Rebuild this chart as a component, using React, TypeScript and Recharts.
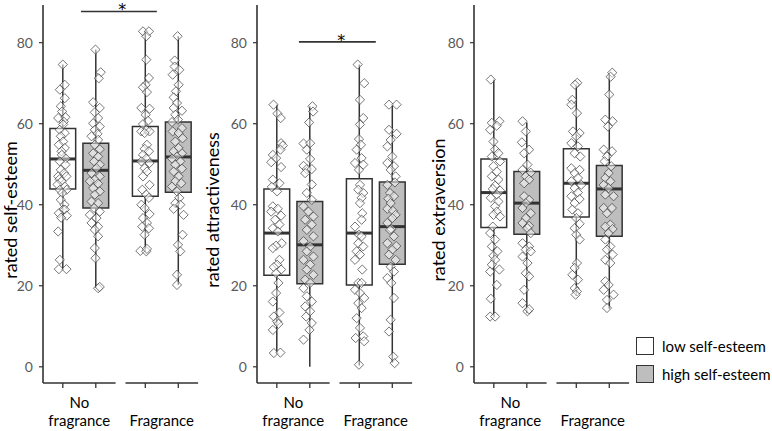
import React from "react";
import {
  ComposedChart,
  Scatter,
  XAxis,
  YAxis,
  ReferenceArea,
  ReferenceLine,
  ReferenceDot,
} from "recharts";

// box order in every panel: no fragrance low, no fragrance high, fragrance low, fragrance high
const boxPositions = [1, 2, 3.5, 4.5];
const facets = [
  { label: ["No", "fragrance"], pos: 1.5, from: 0.4, to: 2.6 },
  { label: ["Fragrance"], pos: 4, from: 2.9, to: 5.1 },
];
const groups = [
  { name: "low self-esteem", fill: "#ffffff" },
  { name: "high self-esteem", fill: "#bebebe" },
];
const yTicks = [0, 20, 40, 60, 80];

// [lower whisker, q1, median, q3, upper whisker]
const selfEsteemStats = [
  [24, 43.9, 51.3, 58.8, 74.6],
  [19.5, 39.2, 48.5, 55.2, 78.3],
  [28.5, 42.1, 50.8, 59.3, 82.8],
  [20.2, 43.1, 51.8, 60.4, 81.6],
];
const attractivenessStats = [
  [3.4, 22.6, 33, 43.9, 64.7],
  [0, 20.5, 30.1, 40.8, 64.3],
  [0.3, 20.2, 33, 46.4, 74.6],
  [1, 25.3, 34.6, 45.6, 64.5],
];
const extraversionStats = [
  [12.4, 34.4, 43, 51.3, 70.9],
  [13.2, 32.7, 40.4, 48.2, 60.3],
  [17.5, 37, 45.3, 53.8, 69.8],
  [14.3, 32.2, 43.9, 49.7, 72.2],
];

// jittered points: [horizontal jitter, rating]
const selfEsteemPoints = [
  [
    [0, 74.6], [0.06, 69.6], [-0.09, 68.4], [0.06, 66.3], [-0.06, 64.3], [-0.02, 63], [-0.14, 61.4],
    [0.08, 61.6], [0.03, 60.5], [0.01, 59.8], [-0.09, 58.5], [0.06, 57.7], [-0.06, 56.9], [0.01, 55.6],
    [-0.12, 54.8], [0.06, 54], [-0.04, 53.2], [-0.03, 52.3], [0.09, 51.4], [-0.09, 50.7], [0.08, 49.9],
    [-0.06, 48.6], [0.04, 47.8], [-0.14, 47], [0.11, 47], [-0.1, 46.3], [-0.04, 45.8], [-0.16, 45],
    [0.06, 44.5], [-0.09, 43.7], [0.12, 43.7], [-0.02, 42.9], [-0.06, 41.2], [0.05, 40], [0.01, 38.8],
    [0.06, 38.8], [-0.12, 37.9], [0.12, 37.3], [-0.05, 36.8], [-0.14, 33.4], [-0.09, 26.4],
    [-0.12, 24.1], [0.11, 24.1],
  ],
  [
    [-0.01, 78.3], [0.15, 72.7], [0.09, 71.2], [-0.08, 65.3], [0.12, 63.9], [-0.03, 62.8], [0.07, 61.4],
    [-0.08, 60.1], [0.12, 59.3], [-0.03, 58.5], [0.05, 57.5], [-0.13, 56.9], [0.07, 56], [-0.03, 54.8],
    [0.12, 53.7], [-0.08, 52.7], [0.07, 51.9], [-0.05, 50.7], [0.12, 49.9], [0.02, 49], [-0.13, 47.8],
    [0.12, 47], [-0.03, 46.2], [-0.18, 45.8], [0.07, 45.2], [-0.08, 44.1], [0.12, 43.3], [-0.03, 42.5],
    [-0.13, 40.8], [0.07, 40.4], [-0.05, 39.2], [0.12, 38.3], [-0.18, 37.5], [0.02, 36.7],
    [-0.13, 35.5], [0.07, 34.6], [-0.03, 33.8], [0.07, 32.2], [-0.03, 29.3], [-0.01, 26.8],
    [0.07, 19.4], [0.12, 19.7],
  ],
  [
    [-0.07, 82.8], [0.11, 82.8], [0.03, 81.6], [0.03, 75.8], [0.11, 71.3], [0.01, 69.6], [-0.07, 69],
    [0.05, 67.8], [-0.12, 63.9], [0.13, 63.7], [0.01, 62.2], [0.08, 60.7], [-0.07, 59.9], [0.03, 58.5],
    [-0.12, 58.1], [0.13, 58.1], [-0.02, 57.7], [0.05, 54.8], [-0.02, 53.8], [0.11, 53.2],
    [-0.07, 52.3], [0.03, 51.4], [-0.12, 50.7], [0.13, 50.3], [-0.02, 49], [0.05, 48.2], [-0.07, 47],
    [0.13, 44.9], [-0.09, 43.7], [0.03, 42.5], [0.11, 41.7], [-0.12, 40], [-0.02, 39.2], [0.13, 37.7],
    [-0.07, 36.7], [0.05, 35.5], [-0.09, 34.6], [0.11, 34.2], [-0.02, 32.6], [-0.15, 28.6],
    [0.03, 28.5], [0.05, 29.1],
  ],
  [
    [-0.02, 81.6], [-0.11, 75.6], [-0.11, 74.1], [0.03, 73.3], [-0.17, 72.1], [0.01, 69.6], [-0.07, 68],
    [-0.14, 66.5], [-0.04, 65.1], [-0.14, 63.9], [0.11, 63.2], [-0.09, 62.2], [-0.01, 61], [-0.19, 60.4],
    [0.11, 58.9], [-0.17, 58.1], [0.01, 57.7], [0.13, 56.4], [-0.09, 55.6], [0.01, 54], [-0.14, 53.2],
    [0.11, 52.7], [-0.04, 51.9], [-0.19, 51.4], [0.06, 50.7], [-0.09, 49.9], [0.11, 48.9],
    [-0.14, 48.2], [0.01, 47], [-0.09, 45.8], [0.09, 45.3], [-0.19, 44.5], [-0.04, 43.3], [0.03, 41.7],
    [-0.09, 40.4], [0.06, 40], [-0.14, 39], [0.16, 37.5], [0.13, 32.6], [-0.01, 30.1], [0.06, 28.5],
    [-0.04, 22.7], [-0.04, 20.2],
  ],
];
const attractivenessPoints = [
  [
    [-0.1, 64.7], [0.02, 62.5], [0.12, 61.4], [0.13, 55.2], [0.18, 54.6], [0.11, 53.6], [-0.12, 52.3],
    [-0.02, 51.5], [-0.17, 50.5], [0.13, 49.3], [-0.12, 46.2], [0.08, 45.3], [-0.15, 44.4], [0.01, 43.3],
    [-0.12, 39.6], [0.03, 39], [-0.17, 38.3], [0.13, 37.3], [-0.05, 36.3], [0.08, 35.1], [-0.12, 34.2],
    [0.03, 33.4], [0.15, 30.5], [-0.02, 29.9], [-0.12, 29.3], [0.08, 26.4], [0.01, 25.2], [-0.09, 24.6],
    [0.13, 24], [-0.02, 23.1], [0.05, 20.7], [-0.02, 18.2], [-0.12, 16.1], [0.08, 13.4], [-0.09, 12.4],
    [0.01, 11.2], [0.05, 10.6], [-0.12, 9.1], [-0.09, 3.4], [0.11, 3.5],
  ],
  [
    [0.08, 64.3], [0.1, 63], [-0.02, 60.3], [-0.19, 55.1], [0.01, 55.2], [-0.09, 53.6], [0.01, 51.3],
    [-0.19, 49.6], [-0.09, 48.8], [0.06, 48.8], [-0.14, 47.8], [0.06, 45], [-0.09, 42.9], [0.06, 41.2],
    [-0.19, 39.6], [-0.04, 38.3], [0.11, 37.1], [-0.14, 36.3], [0.06, 35.1], [-0.09, 33.8], [0.11, 32.2],
    [-0.19, 31], [0.01, 29.7], [-0.09, 28.5], [0.11, 27.2], [-0.19, 26.4], [0.01, 25.2], [-0.09, 24],
    [0.11, 22.7], [-0.14, 21.5], [0.01, 20.7], [-0.19, 19.4], [-0.09, 17.4], [0.06, 16.1],
    [-0.14, 14.9], [0.01, 13.7], [-0.11, 12.4], [0.06, 10.8], [-0.01, 9.1], [-0.19, 6.7],
  ],
  [
    [-0.05, 74.6], [0.15, 70], [0.02, 65.9], [0.12, 61.4], [0.02, 59.8], [-0.01, 56.2], [0.05, 54.8],
    [-0.08, 53.6], [0.07, 51.5], [-0.13, 50.3], [0.12, 49.9], [-0.01, 48.6], [0.02, 44.9], [-0.03, 43.7],
    [0.12, 42.9], [0.07, 41.7], [0.02, 40.4], [0.09, 37.9], [0.07, 36.3], [-0.13, 34.6], [-0.01, 32.6],
    [0.07, 32.2], [-0.03, 30.5], [0.12, 29.7], [-0.08, 28.5], [0.02, 27.7], [-0.13, 26.4], [0.09, 24],
    [-0.03, 20.7], [0.07, 20.7], [-0.13, 19], [0.02, 18.2], [0.15, 17], [-0.03, 15.7], [0.07, 14.5],
    [-0.08, 12], [0.02, 9.6], [0.12, 7.5], [-0.11, 7.1], [0.15, 6.3], [-0.01, 0.5],
  ],
  [
    [-0.1, 64.7], [0.13, 64.7], [-0.1, 58.5], [0.13, 57.5], [-0.05, 56], [-0.15, 54.4], [0, 51.9],
    [-0.15, 50.3], [0.05, 49.5], [-0.05, 48.6], [0.1, 47], [0.08, 45.5], [-0.15, 44.9], [-0.07, 42.9],
    [0.05, 42.1], [-0.12, 41.5], [-0.05, 40.4], [-0.15, 39], [0.02, 38.5], [0.1, 37.5], [0, 36.7],
    [-0.15, 35.5], [-0.02, 34], [-0.07, 33.8], [0.05, 32.2], [-0.15, 30.5], [0.12, 29.8], [0, 28.9],
    [-0.1, 27.7], [0.1, 26.4], [-0.05, 24.7], [0.05, 23.5], [-0.15, 21.9], [-0.03, 20.7], [0.05, 17],
    [-0.05, 11.6], [-0.1, 8.7], [0.03, 2.5], [0.07, 0.9],
  ],
];
const extraversionPoints = [
  [
    [-0.09, 70.9], [-0.06, 60.2], [0.17, 60.6], [0.09, 59.5], [-0.11, 58.5], [-0.01, 55.6], [0.04, 53.6],
    [0.14, 52.7], [-0.06, 51.9], [0.19, 50.7], [-0.01, 49.5], [0.09, 48.2], [-0.06, 47], [0.14, 46.2],
    [0.04, 44.7], [-0.03, 43.9], [0.19, 43.5], [0.09, 42.5], [-0.09, 41.7], [0.14, 40.8], [0.04, 39.6],
    [0.09, 38.3], [-0.01, 37.5], [0.19, 37.1], [-0.03, 34.6], [-0.11, 33], [0.04, 31.4], [-0.06, 29.7],
    [0.11, 28.5], [-0.01, 27.4], [0.04, 26.4], [-0.06, 25.2], [0.17, 24], [-0.11, 23.5], [0.09, 20.2],
    [-0.09, 16.8], [-0.11, 12.4], [0.04, 12.4],
  ],
  [
    [-0.13, 60.6], [-0.03, 58.1], [-0.15, 55.4], [0.07, 53.6], [-0.08, 52.7], [0.02, 49.9], [-0.13, 48.6],
    [0.12, 47.9], [-0.03, 47], [0.07, 46.2], [-0.08, 45.3], [-0.08, 42.1], [0.07, 41.2], [-0.03, 40.4],
    [-0.13, 39.2], [0.12, 37.9], [-0.03, 36.7], [-0.13, 35.5], [0.07, 34.8], [0.02, 34.2], [0.12, 33],
    [-0.13, 30.5], [0.07, 29.7], [-0.03, 28.9], [0.12, 28.5], [-0.13, 27.2], [0.02, 25.6], [-0.03, 23.1],
    [0.07, 22.3], [-0.08, 19], [-0.13, 15.7], [0.02, 13.7], [0.07, 14.2],
  ],
  [
    [0.03, 70.1], [-0.04, 69.6], [-0.12, 65.9], [-0.15, 64.7], [0.02, 62.6], [-0.1, 58.1], [0.1, 57.7],
    [0, 56.9], [-0.15, 55.2], [0.05, 54.4], [-0.05, 52.7], [0.12, 51.9], [-0.15, 49], [0.1, 48.6],
    [-0.05, 47.8], [0.05, 46.6], [-0.15, 45.8], [0.15, 44.9], [-0.05, 44.1], [0.05, 43], [-0.15, 42.1],
    [0.1, 41.4], [-0.05, 40.4], [-0.12, 38.8], [0.05, 37.9], [0, 36.7], [0.1, 35.3], [-0.05, 34.2],
    [0, 32.6], [0.1, 31.4], [0.02, 25.6], [-0.05, 24.4], [-0.12, 22.7], [0.05, 21.5], [-0.05, 19.4],
    [0.02, 18.6], [-0.02, 17.8],
  ],
  [
    [0.09, 72.6], [0.04, 71.6], [0, 67.2], [-0.12, 61], [0.1, 60.6], [-0.04, 59.3], [-0.17, 53.6],
    [0.08, 53.2], [-0.07, 51.9], [-0.14, 50.7], [0.06, 49.5], [-0.02, 47.8], [-0.12, 46.6], [0.03, 45.8],
    [-0.17, 44.9], [-0.02, 44.1], [-0.12, 42.5], [0.13, 42.1], [-0.17, 39.2], [0.08, 39.2], [-0.07, 37.9],
    [0.03, 35.1], [-0.12, 34.6], [0.1, 34], [-0.02, 33], [-0.12, 31.4], [0.03, 29.7], [-0.07, 28.9],
    [0.1, 27.7], [-0.12, 26.4], [0.03, 25.6], [-0.12, 21.1], [-0.02, 20.2], [-0.17, 19], [0.13, 17.8],
    [-0.07, 16.5], [-0.07, 14.5],
  ],
];

const panels = [
  {
    title: "rated self-esteem",
    axisX: 43,
    titleX: 11,
    stats: selfEsteemStats,
    points: selfEsteemPoints,
    sig: { from: 1.55, to: 3.85, y: 87.7, star: 2.8 },
  },
  {
    title: "rated attractiveness",
    axisX: 257,
    titleX: 213,
    stats: attractivenessStats,
    points: attractivenessPoints,
    sig: { from: 1.67, to: 4.0, y: 80.2, star: 2.95 },
  },
  {
    title: "rated extraversion",
    axisX: 474,
    titleX: 439,
    stats: extraversionStats,
    points: extraversionPoints,
    sig: null,
  },
];

const X_DOMAIN = [0.4, 5.1];
const Y_DOMAIN = [-4, 89.3];
const UNIT = 33;
const PLOT_W = (X_DOMAIN[1] - X_DOMAIN[0]) * UNIT;
const AXIS_W = 60;
const HALF_BOX = 0.39;
const FONT = "Lato, 'Open Sans', sans-serif";
const INK = "#333333";

const XTick = (props: any) => {
  const { x, y, payload } = props;
  const facet = facets.find((f) => f.pos === payload.value);
  if (facet) {
    const n = facet.label.length;
    return (
      <g>
        {facet.label.map((t, i) => (
          <text key={t} x={x} y={y + 43 - (n - 1 - i) * 18} textAnchor="middle" fontSize={15} fill="#000">
            {t}
          </text>
        ))}
      </g>
    );
  }
  return <line x1={x} y1={y} x2={x} y2={y + 5} stroke={INK} strokeWidth={1.3} />;
};

const Diamond = (props: any) => {
  const { cx, cy } = props;
  const r = 4.6;
  return (
    <polygon
      points={`${cx},${cy - r} ${cx + r},${cy} ${cx},${cy + r} ${cx - r},${cy}`}
      fill="#ffffff"
      fillOpacity={0.5}
      stroke="#3a3a3a"
      strokeOpacity={0.7}
      strokeWidth={1}
    />
  );
};

const Panel = ({ panel }: { panel: (typeof panels)[number] }) => {
  const left = panel.axisX - AXIS_W;
  const labelX = panel.titleX - left;
  const width = AXIS_W + PLOT_W + 4;
  return (
    <div style={{ position: "absolute", left, top: 0 }}>
      <ComposedChart
        width={width}
        height={431}
        margin={{ top: 5, right: 4, bottom: 0, left: 0 }}
      >
        <XAxis
          type="number"
          dataKey="x"
          domain={X_DOMAIN}
          allowDataOverflow
          ticks={[1, 1.5, 2, 3.5, 4, 4.5]}
          interval={0}
          tickSize={0}
          tickMargin={0}
          axisLine={false}
          tickLine={false}
          height={48}
          tick={<XTick />}
        />
        <YAxis
          type="number"
          dataKey="y"
          domain={Y_DOMAIN}
          allowDataOverflow
          ticks={yTicks}
          interval={0}
          width={AXIS_W}
          tickSize={4}
          tickMargin={6}
          axisLine={{ stroke: INK, strokeWidth: 1.6 }}
          tickLine={{ stroke: INK, strokeWidth: 1.2 }}
          tick={{ fill: "#5a5a5a", fontSize: 14 }}
          label={() => (
            <text
              x={labelX}
              y={210}
              transform={`rotate(-90 ${labelX} 210)`}
              textAnchor="middle"
              dy="0.35em"
              fontSize={18}
              fill="#000"
            >
              {panel.title}
            </text>
          )}
        />
        {facets.map((f) => (
          <ReferenceLine
            key={`axis-${f.pos}`}
            segment={[
              { x: f.from, y: Y_DOMAIN[0] },
              { x: f.to, y: Y_DOMAIN[0] },
            ]}
            stroke={INK}
            strokeWidth={1.6}
            ifOverflow="visible"
          />
        ))}
        {panel.stats.map((s, i) => (
          <ReferenceLine
            key={`wlo-${i}`}
            segment={[
              { x: boxPositions[i], y: s[0] },
              { x: boxPositions[i], y: s[1] },
            ]}
            stroke={INK}
            strokeWidth={1.5}
            ifOverflow="visible"
          />
        ))}
        {panel.stats.map((s, i) => (
          <ReferenceLine
            key={`whi-${i}`}
            segment={[
              { x: boxPositions[i], y: s[3] },
              { x: boxPositions[i], y: s[4] },
            ]}
            stroke={INK}
            strokeWidth={1.5}
            ifOverflow="visible"
          />
        ))}
        {panel.stats.map((s, i) => (
          <ReferenceArea
            key={`box-${i}`}
            x1={boxPositions[i] - HALF_BOX}
            x2={boxPositions[i] + HALF_BOX}
            y1={s[1]}
            y2={s[3]}
            fill={groups[i % 2].fill}
            fillOpacity={1}
            stroke={INK}
            strokeWidth={1.5}
            ifOverflow="visible"
          />
        ))}
        {panel.stats.map((s, i) => (
          <ReferenceLine
            key={`med-${i}`}
            segment={[
              { x: boxPositions[i] - HALF_BOX, y: s[2] },
              { x: boxPositions[i] + HALF_BOX, y: s[2] },
            ]}
            stroke={INK}
            strokeWidth={3}
            ifOverflow="visible"
          />
        ))}
        {panel.points.map((pts, i) => (
          <Scatter
            key={`pts-${i}`}
            data={pts.map(([dx, v]) => ({ x: boxPositions[i] + dx, y: v }))}
            shape={<Diamond />}
            isAnimationActive={false}
          />
        ))}
        {panel.sig && (
          <ReferenceLine
            segment={[
              { x: panel.sig.from, y: panel.sig.y },
              { x: panel.sig.to, y: panel.sig.y },
            ]}
            stroke={INK}
            strokeWidth={1.6}
            ifOverflow="visible"
          />
        )}
        {panel.sig && (
          <ReferenceDot
            x={panel.sig.star}
            y={panel.sig.y}
            ifOverflow="visible"
            shape={(p: any) => (
              <text
                x={p.cx}
                y={p.cy + 4}
                textAnchor="middle"
                fontSize={16}
                fontFamily="'DejaVu Sans', sans-serif"
                fill="#000"
              >
                *
              </text>
            )}
          />
        )}
      </ComposedChart>
    </div>
  );
};

export default function App() {
  return (
    <div
      style={{
        position: "absolute",
        left: 0,
        top: 0,
        width: 772,
        height: 431,
        background: "#fff",
        fontFamily: FONT,
        overflow: "hidden",
      }}
    >
      {panels.map((p) => (
        <Panel key={p.title} panel={p} />
      ))}
      <div style={{ position: "absolute", left: 636, top: 332 }}>
        {groups.map((g) => (
          <div key={g.name} style={{ display: "flex", alignItems: "center", height: 28 }}>
            <div
              style={{
                width: 18,
                height: 18,
                background: g.fill,
                border: `1.3px solid ${INK}`,
                boxSizing: "border-box",
                marginRight: 8,
              }}
            />
            <span style={{ fontSize: 15, color: "#000" }}>{g.name}</span>
          </div>
        ))}
      </div>
    </div>
  );
}
